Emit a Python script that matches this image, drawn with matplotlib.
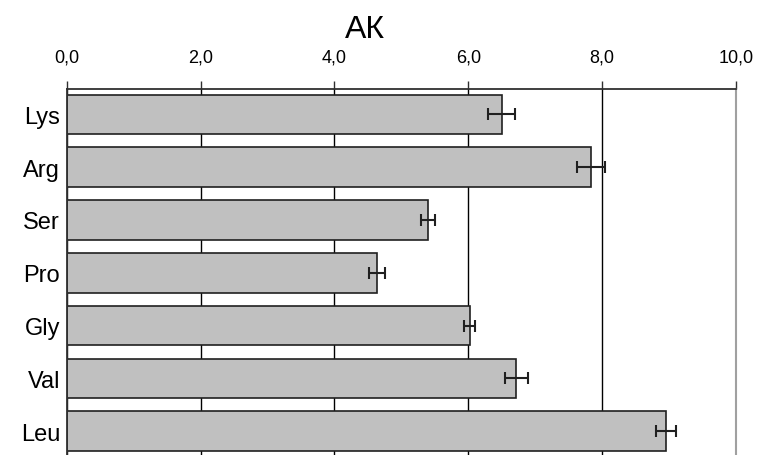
import matplotlib.pyplot as plt
from matplotlib.ticker import FuncFormatter

## Data
amino_acids = ["Lys", "Arg", "Ser", "Pro", "Gly", "Val", "Leu"]
values = [6.50, 7.83, 5.40, 4.64, 6.02, 6.72, 8.96]
errors = [0.20, 0.21, 0.10, 0.12, 0.08, 0.17, 0.15]
x_ticks = [0, 2, 4, 6, 8, 10]

plt.rcParams['font.family'] = ['Liberation Sans', 'DejaVu Sans']

fig = plt.figure(figsize=(7.57, 4.56), dpi=100)
ax = fig.add_axes([67 / 757, 0, (735.7 - 67) / 757, 1 - 90 / 456])

ypos = list(range(len(amino_acids)))
ax.barh(ypos, values, height=0.75, color="#c0c0c0", edgecolor="#202020",
        linewidth=1.2, zorder=2)
ax.errorbar(values, ypos, xerr=errors, fmt="none", ecolor="#202020",
            elinewidth=1.5, capsize=4.5, capthick=1.5, zorder=3)

ax.set_xlim(0, 10)
ax.set_ylim(6.45, -0.48)
ax.xaxis.tick_top()
ax.set_xticks(x_ticks)
ax.xaxis.set_major_formatter(FuncFormatter(lambda v, p: f"{v:.1f}".replace(".", ",")))
ax.tick_params(axis="x", direction="out", length=6, width=1, color="#303030",
               labelsize=13, pad=11)
ax.set_yticks(ypos)
ax.set_yticklabels(amino_acids)
ax.tick_params(axis="y", length=0, labelsize=17, pad=5)

ax.grid(axis="x", color="black", linewidth=1, zorder=0)
ax.set_axisbelow(True)
for side in ("top", "left"):
    ax.spines[side].set_color("#303030")
    ax.spines[side].set_linewidth(1.3)
ax.spines["right"].set_color("#a0a0a0")
ax.spines["right"].set_linewidth(1.5)
ax.spines["bottom"].set_visible(False)

fig.text(365 / 757, 1 - 30 / 456, "АК", ha="center", va="center", fontsize=23)

fig.savefig("out.png", dpi=100)
